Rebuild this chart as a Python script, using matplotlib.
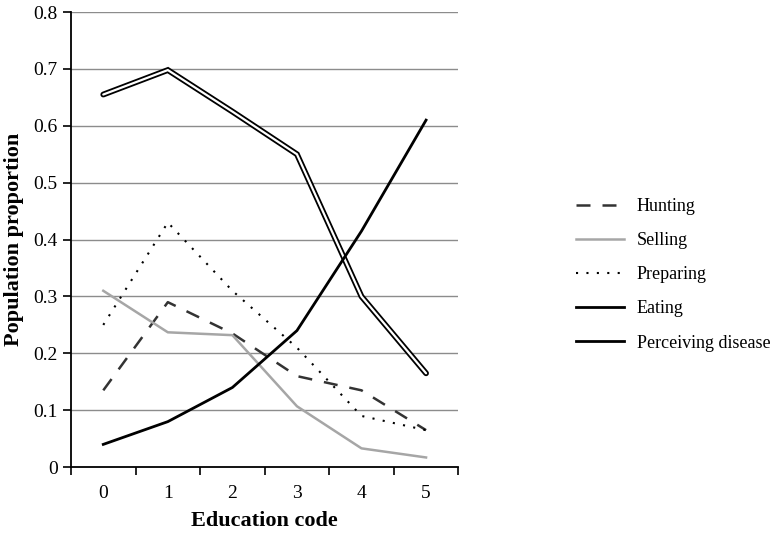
import numpy as np
import matplotlib
matplotlib.use('Agg')
import matplotlib.pyplot as plt
from matplotlib.lines import Line2D

plt.rcParams['font.family'] = ['Liberation Serif', 'DejaVu Serif']

# Data
education = [0, 1, 2, 3, 4, 5]
hunting = [0.135, 0.29, 0.235, 0.16, 0.135, 0.065]
selling = [0.31, 0.237, 0.232, 0.107, 0.033, 0.017]
preparing = [0.25, 0.43, 0.31, 0.21, 0.09, 0.065]
eating = [0.655, 0.698, 0.625, 0.55, 0.30, 0.165]
perceiving = [0.04, 0.08, 0.14, 0.24, 0.415, 0.61]
y_ticks = [0, 0.1, 0.2, 0.3, 0.4, 0.5, 0.6, 0.7, 0.8]

fig = plt.figure(figsize=(7.82, 5.47), dpi=100)
ax = fig.add_axes([0.0908, 0.146, 0.4953, 0.832])

# grey horizontal grid
for t in y_ticks[1:]:
    ax.axhline(t, color='#8c8c8c', lw=1.0, zorder=0)

hunt_dash = (5.6, 4.8)
prep_dash = (1, 4)
ax.plot(education, hunting, color='#333333', lw=1.8, dashes=hunt_dash)
ax.plot(education, selling, color='#a6a6a6', lw=1.8)
ax.plot(education, preparing, color='black', lw=1.5, dashes=prep_dash)
# double line for Eating
ax.plot(education, eating, color='black', lw=4.2, solid_capstyle='round',
        solid_joinstyle='miter')
ax.plot(education, eating, color='white', lw=1.6, solid_capstyle='round',
        solid_joinstyle='miter')
ax.plot(education, perceiving, color='black', lw=2.0)

ax.set_xlim(-0.5, 5.5)
ax.set_ylim(0, 0.8)
ax.set_xticks(education)
ax.set_xticklabels([str(e) for e in education])
ax.set_xticks(np.arange(-0.5, 6.0, 1.0), minor=True)
ax.tick_params(axis='x', which='major', length=0, pad=13, labelsize=14)
ax.tick_params(axis='x', which='minor', length=6, width=1.2, direction='out')
ax.set_yticks(y_ticks)
ax.set_yticklabels(['0', '0.1', '0.2', '0.3', '0.4', '0.5', '0.6', '0.7', '0.8'])
ax.tick_params(axis='y', length=6, width=1.2, direction='out', labelsize=14)

for s in ['top', 'right']:
    ax.spines[s].set_visible(False)
for s in ['left', 'bottom']:
    ax.spines[s].set_linewidth(1.3)

ax.set_xlabel('Education code', fontsize=16, fontweight='bold', labelpad=6)
ax.set_ylabel('Population proportion', fontsize=16, fontweight='bold', labelpad=7)

handles = [
    Line2D([], [], color='#333333', lw=1.8, dashes=hunt_dash),
    Line2D([], [], color='#a6a6a6', lw=1.8),
    Line2D([], [], color='black', lw=1.5, dashes=prep_dash),
    Line2D([], [], color='black', lw=2.0),
    Line2D([], [], color='black', lw=2.0),
]
labels = ['Hunting', 'Selling', 'Preparing', 'Eating', 'Perceiving disease']
fig.legend(handles, labels, loc='upper left', bbox_to_anchor=(0.737, 0.638),
           frameon=False, fontsize=13, handlelength=2.65, labelspacing=0.95,
           handletextpad=0.7, borderaxespad=0, borderpad=0)

fig.savefig('out.png', dpi=100)
